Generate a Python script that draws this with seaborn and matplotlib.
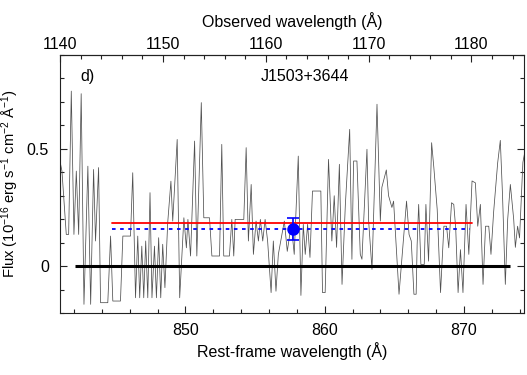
import matplotlib
matplotlib.use("Agg")
import matplotlib.pyplot as plt
from matplotlib.ticker import MultipleLocator, FixedLocator
import seaborn as sns
import numpy as np

# ---------------- data ----------------
rest_wl = [841.00, 841.14, 841.45, 841.62, 841.81, 842.00, 842.17, 842.34, 842.52, 842.72,
           843.00, 843.20, 843.41, 843.55, 843.77, 843.91, 844.43, 844.63, 844.79, 845.34,
           845.51, 846.06, 846.22, 846.42, 846.58, 846.72, 846.87, 847.01, 847.15, 847.30,
           847.46, 847.60, 847.78, 847.92, 848.08, 848.23, 848.37, 848.53, 848.73, 848.96,
           849.09, 849.41, 849.59, 849.89, 850.07, 850.18, 850.37, 850.66, 850.82, 851.14,
           851.32, 851.73, 851.90, 852.45, 852.61, 852.75, 853.16, 853.33, 853.47, 853.57,
           854.19, 854.36, 854.52, 854.72, 854.88, 855.07, 855.24, 855.38, 855.55, 855.72,
           855.90, 856.15, 856.31, 856.50, 856.67, 856.88, 857.10, 857.31, 857.60, 857.81,
           858.10, 858.29, 858.46, 858.60, 858.77, 858.94, 859.12, 859.72, 859.84, 860.03,
           860.27, 860.51, 860.68, 860.85, 861.05, 861.24, 861.48, 861.79, 861.95, 862.07,
           862.31, 862.55, 862.67, 863.03, 863.15, 863.39, 863.58, 863.75, 863.99, 864.10,
           864.42, 864.58, 864.82, 864.94, 865.33, 865.56, 865.87, 866.05, 866.21, 866.40,
           866.56, 866.63, 866.74, 866.90, 867.14, 867.26, 867.45, 867.67, 867.83, 868.07,
           868.31, 868.55, 868.74, 868.90, 869.10, 869.26, 869.40, 869.57, 869.74, 869.92,
           870.14, 870.34, 870.57, 870.81, 870.98, 871.17, 871.36, 871.54, 871.77, 871.93,
           872.12, 872.41, 872.60, 872.76, 872.96, 873.13, 873.32, 873.56, 873.68, 873.84,
           873.98, 874.22, 874.40]
flux = [0.447, 0.405, 0.135, 0.135, 0.746, 0.135, 0.405, 0.135, 0.735, -0.163,
        0.426, -0.163, 0.412, 0.107, 0.420, -0.156, -0.156, 0.128, -0.149, -0.149,
        0.128, 0.128, 0.398, -0.135, 0.128, -0.135, 0.085, -0.135, 0.107, -0.135,
        0.313, -0.135, 0.085, -0.135, 0.121, -0.135, 0.093, -0.092, 0.185, 0.362,
        0.192, 0.540, -0.135, 0.206, 0.078, 0.199, 0.043, 0.533, 0.043, 0.697,
        0.206, 0.206, 0.043, 0.043, 0.519, 0.043, 0.043, 0.199, 0.043, 0.199,
        0.199, 0.505, 0.107, 0.348, 0.050, 0.192, 0.107, 0.199, 0.107, 0.199,
        0.107, -0.113, 0.107, -0.107, 0.050, 0.120, 0.192, 0.063, 0.178, 0.050,
        0.469, -0.125, 0.178, 0.050, 0.178, 0.037, 0.320, 0.320, -0.113, -0.113,
        0.455, 0.107, 0.300, 0.080, 0.434, -0.078, 0.263, 0.583, 0.029, 0.448,
        0.448, 0.050, 0.029, 0.498, 0.192, -0.014, 0.363, 0.690, 0.192, 0.336,
        0.410, 0.300, 0.250, 0.277, -0.120, 0.050, 0.277, 0.135, 0.107, -0.120,
        -0.120, 0.090, 0.263, 0.007, 0.007, 0.263, 0.021, 0.526, 0.420, 0.242,
        -0.113, 0.170, 0.170, 0.078, 0.270, 0.263, 0.160, -0.113, 0.070, -0.113,
        0.263, 0.050, 0.363, 0.355, 0.170, 0.263, -0.078, 0.170, 0.170, 0.050,
        0.230, 0.440, 0.536, 0.300, -0.078, 0.200, 0.348, 0.200, 0.080, 0.170,
        0.120, 0.442, 0.500]

redshift = 0.3555
zero_range = [842.05, 873.3]
model_range = [844.7, 870.6]
mean_range = [844.7, 870.4]
model_level = 0.183
mean_level = 0.159
point_wl = [857.7]
point_flux = [0.158]
point_err = [0.048]

bottom_ticks = [850, 860, 870]
top_ticks = [1140, 1150, 1160, 1170, 1180]
left_ticks = [0, 0.5]
left_labels = ["0", "0.5"]

# ---------------- style ----------------
sns.set_style("ticks", rc={"text.color": "black", "axes.labelcolor": "black",
                           "xtick.color": "black", "ytick.color": "black",
                           "axes.edgecolor": "#222222"})
plt.rcParams["font.family"] = ["Liberation Sans", "DejaVu Sans"]
plt.rcParams["mathtext.fontset"] = "custom"
plt.rcParams["mathtext.rm"] = "Liberation Sans"
plt.rcParams["mathtext.it"] = "Liberation Sans:italic"
plt.rcParams["mathtext.bf"] = "Liberation Sans:bold"
FS = 11.5

fig = plt.figure(figsize=(5.27, 3.75), dpi=100)
ax = fig.add_axes([60 / 527, 1 - 313 / 375, 464 / 527, 258 / 375])

sns.lineplot(x=rest_wl, y=flux, ax=ax, color="#505050", linewidth=0.55,
             sort=False, estimator=None)
ax.plot(zero_range, [0, 0], color="black", lw=2.2, solid_capstyle="butt")
ax.plot(model_range, [model_level] * 2, color="red", lw=1.3)
ax.plot(mean_range, [mean_level] * 2, color="blue", lw=1.3, ls=(0, (2, 2.5)))
ax.errorbar(point_wl, point_flux, yerr=point_err, fmt="o", color="blue",
            ms=8, capsize=4, elinewidth=1.2, capthick=1.2)

ax.set_xlim(841.0, 874.3)
ax.set_ylim(-0.2, 0.9)

ax.xaxis.set_major_locator(FixedLocator(bottom_ticks))
ax.xaxis.set_minor_locator(MultipleLocator(2))
ax.yaxis.set_major_locator(FixedLocator(left_ticks))
ax.set_yticklabels(left_labels)
ax.yaxis.set_minor_locator(MultipleLocator(0.1))
ax.tick_params(which="both", direction="in", right=True, top=False,
               labelsize=FS, color="#222222", width=0.8)
ax.tick_params(which="major", length=4.8)
ax.tick_params(axis="x", which="major", pad=7.5)
ax.tick_params(axis="y", which="major", pad=8)
ax.tick_params(which="minor", length=2.8)
for s in ax.spines.values():
    s.set_visible(True)
    s.set_linewidth(0.8)
    s.set_color("#222222")

sec = ax.secondary_xaxis("top", functions=(lambda x: x * (1 + redshift),
                                           lambda x: x / (1 + redshift)))
sec.xaxis.set_major_locator(FixedLocator(top_ticks))
sec.xaxis.set_minor_locator(MultipleLocator(2))
sec.tick_params(which="both", direction="in", labelsize=FS, color="#222222", width=0.8)
sec.tick_params(which="major", length=4.8, pad=2.4)
sec.tick_params(which="minor", length=2.8)
sec.spines["top"].set_linewidth(0.8)
sec.set_xlabel("Observed wavelength (Å)", fontsize=FS, labelpad=7)

ax.set_xlabel("Rest-frame wavelength (Å)", fontsize=FS, labelpad=2.5)
ax.set_ylabel("Flux (10$^{-16}$ erg s$^{-1}$ cm$^{-2}$ Å$^{-1}$)", fontsize=10.6)
ax.yaxis.set_label_coords(-0.085, 0.5)

ax.text(842.43, 0.81, "d)", fontsize=FS, va="center", ha="left")
ax.text(858.6, 0.807, "J1503+3644", fontsize=FS, va="center", ha="center")

fig.savefig("out.png", dpi=100)
